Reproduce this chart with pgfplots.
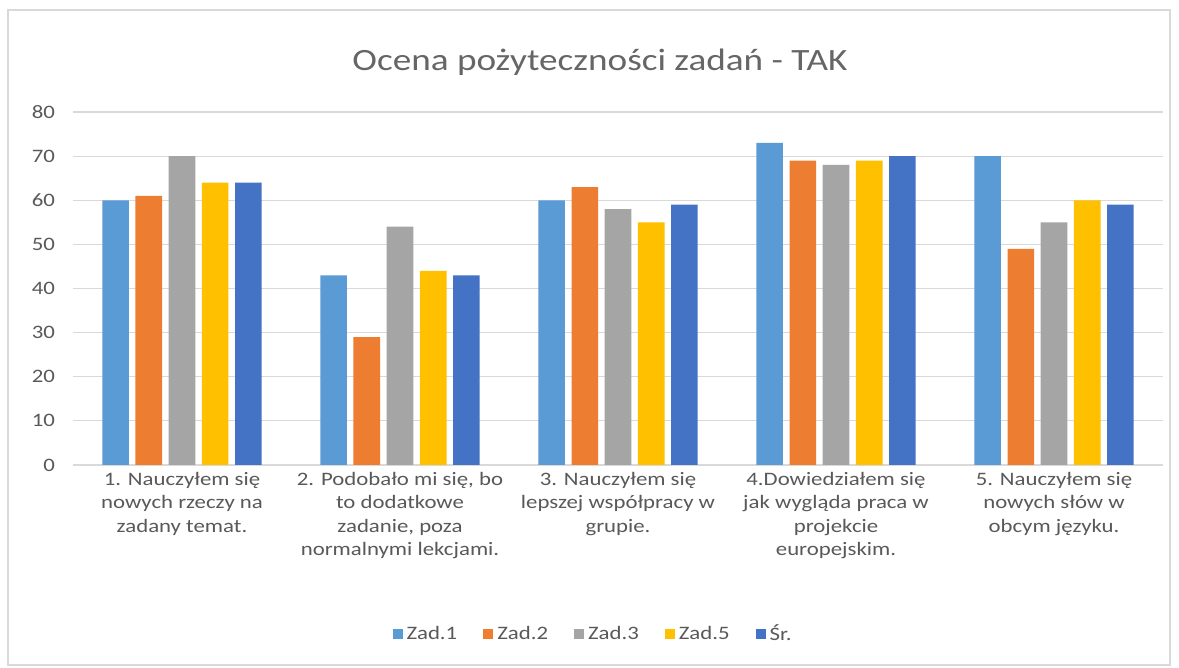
\documentclass[border=0pt]{standalone}
\usepackage{fontspec}
\setmainfont[FakeStretch=1.2]{Carlito}
\usepackage{pgfplots}
\pgfplotsset{compat=1.18}
\definecolor{cA}{HTML}{5B9BD5}
\definecolor{cB}{HTML}{ED7D31}
\definecolor{cC}{HTML}{A5A5A5}
\definecolor{cD}{HTML}{FFC000}
\definecolor{cE}{HTML}{4472C4}
\definecolor{txtgray}{HTML}{595959}
\definecolor{titlegray}{HTML}{666666}
\definecolor{gridgray}{HTML}{D9D9D9}
\begin{document}
\begin{tikzpicture}
\fill[white] (-36.5pt,-101.5pt) rectangle (553pt,232.5pt);
\draw[gridgray, line width=0.6pt] (-32.5pt,-100pt) rectangle (548.5pt,227.5pt);
\begin{axis}[
  at={(0pt,0pt)}, anchor=south west,
  scale only axis, width=545pt, height=176.5pt,
  ymin=0, ymax=80, xmin=-0.5, xmax=4.5,
  ybar=3.3pt, bar width=13.3pt,
  xtick={0,1,2,3,4},
  xticklabels={
    {1. Nauczyłem się\\nowych rzeczy na\\zadany temat.},
    {2. Podobało mi się, bo\\to dodatkowe\\zadanie, poza\\normalnymi lekcjami.},
    {3. Nauczyłem się\\lepszej współpracy w\\grupie.},
    {4.Dowiedziałem się\\jak wygląda praca w\\projekcie\\europejskim.},
    {5. Nauczyłem się\\nowych słów w\\obcym języku.}},
  xticklabel style={align=center, font=\fontsize{9.5}{11.7}\selectfont, text=txtgray},
  ytick={0,10,...,80},
  yticklabel style={font=\fontsize{9.5}{11}\selectfont, text=txtgray, xshift=-5.5pt},
  /pgf/number format/assume math mode=true,
  major tick length=0pt,
  axis line style={draw=none},
  ymajorgrids, grid style={gridgray, line width=0.6pt},
  legend style={at={(axis description cs:0.478,-0.479)}, anchor=center, draw=none,
    font=\fontsize{9.5}{11}\selectfont, text=txtgray, legend columns=5,
    /tikz/every even column/.append style={column sep=11pt}},
  legend image code/.code={\fill[#1] (0pt,-2.5pt) rectangle (5pt,2.5pt);},
]
\addplot[fill=cA, draw=none] coordinates {(0,60) (1,43) (2,60) (3,73) (4,70)};
\addplot[fill=cB, draw=none] coordinates {(0,61) (1,29) (2,63) (3,69) (4,49)};
\addplot[fill=cC, draw=none] coordinates {(0,70) (1,54) (2,58) (3,68) (4,55)};
\addplot[fill=cD, draw=none] coordinates {(0,64) (1,44) (2,55) (3,69) (4,60)};
\addplot[fill=cE, draw=none] coordinates {(0,64) (1,43) (2,59) (3,70) (4,59)};
\legend{Zad.1, Zad.2, Zad.3, Zad.5, Śr.}
\end{axis}
\node[text=titlegray, font=\fontsize{15.5}{19}\selectfont] at (263.5pt,201.5pt) {Ocena pożyteczności zadań - TAK};
\end{tikzpicture}
\end{document}
